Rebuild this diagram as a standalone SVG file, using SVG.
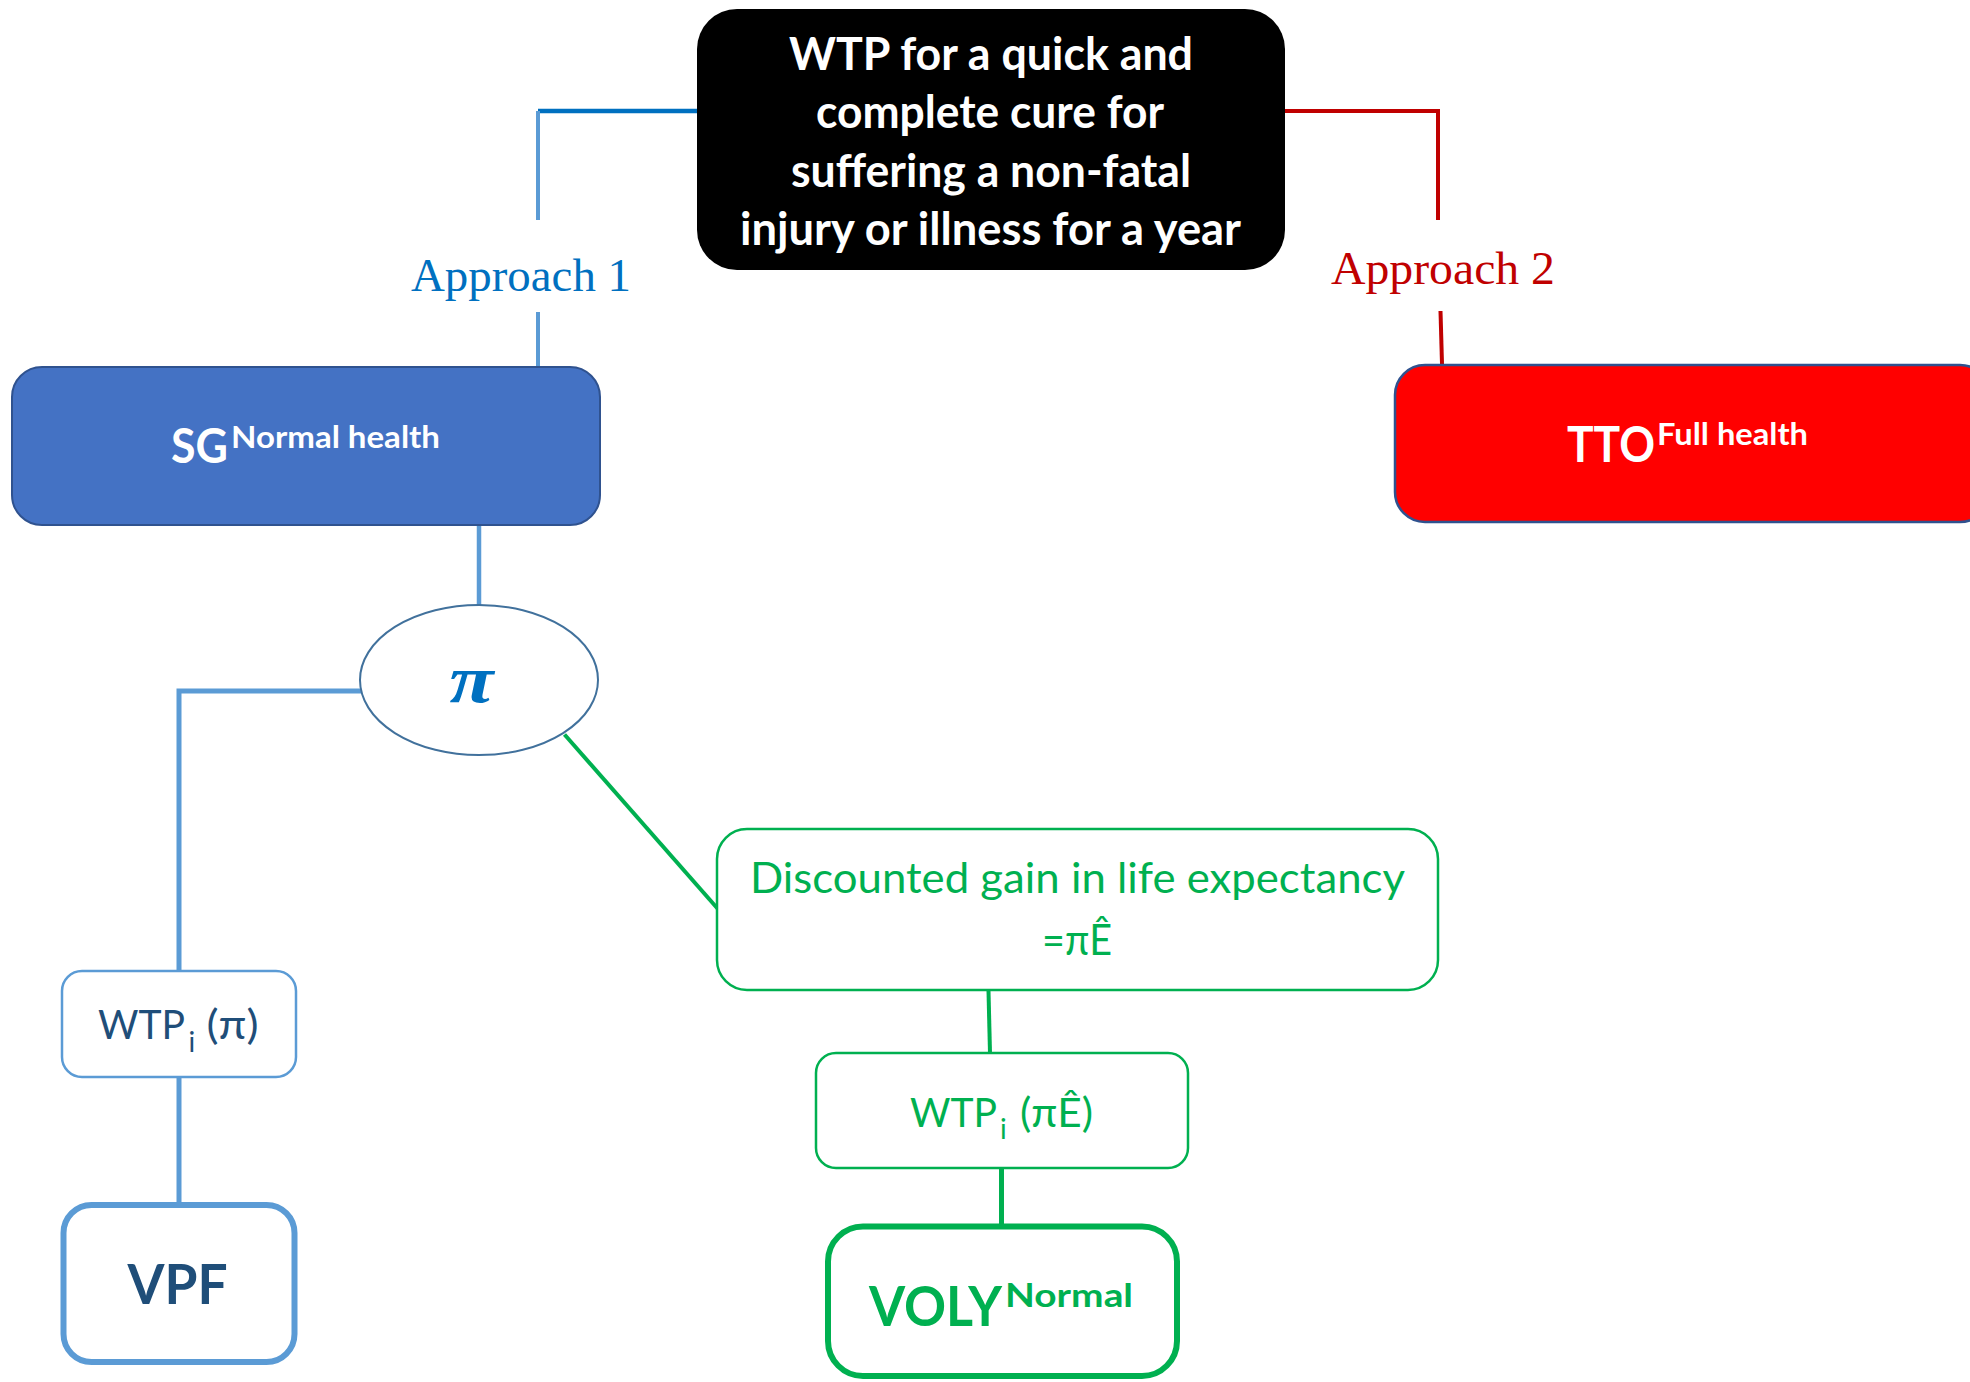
<svg xmlns="http://www.w3.org/2000/svg" width="1970" height="1382" viewBox="0 0 1970 1382">
<style>
.sans{font-family:Lato,"Liberation Sans","DejaVu Sans",sans-serif}
.b{font-weight:bold}
.serif{font-family:"Liberation Serif","DejaVu Serif",serif}
.wt{fill:#ffffff}
.conn{fill:none;stroke-linejoin:miter}
.lb{stroke:#5B9BD5}
.gr{stroke:#00B050}
.rd{stroke:#C00000}
.dkb{fill:#1F4E79}
.gtx{fill:#00B050}
</style>
<rect x="0" y="0" width="1970" height="1382" fill="#ffffff"/>
<g id="connectors">
  <path class="conn" d="M697 111 H538" stroke="#0070C0" stroke-width="4.5"/>
  <path class="conn lb" d="M538 111 V220" stroke-width="4"/>
  <path class="conn lb" d="M538 312 V366" stroke-width="4"/>
  <text class="serif" x="411" y="291" font-size="47" fill="#0070C0" textLength="220" lengthAdjust="spacingAndGlyphs">Approach 1</text>
  <path class="conn rd" d="M1285 111 H1438 V220" stroke-width="4"/>
  <path class="conn rd" d="M1440.5 311 L1442 364" stroke-width="4"/>
  <text class="serif" x="1331" y="284" font-size="47" fill="#C00000" textLength="224" lengthAdjust="spacingAndGlyphs">Approach 2</text>
  <path class="conn lb" d="M479 525 V605" stroke-width="4.5"/>
  <path class="conn lb" d="M362 691 H179 V971" stroke-width="5"/>
  <path class="conn lb" d="M179 1077 V1203" stroke-width="5"/>
  <path class="conn gr" d="M564.5 734.5 L717.5 908.5" stroke-width="4"/>
  <path class="conn gr" d="M988.5 991 L990 1053" stroke-width="4"/>
  <path class="conn gr" d="M1001.5 1168 V1224" stroke-width="5"/>
</g>
<g id="node-wtp">
  <rect x="697" y="9" width="588" height="261" rx="40" fill="#000000"/>
  <text class="sans b wt" x="789" y="70" font-size="45" textLength="404" lengthAdjust="spacingAndGlyphs">WTP for a quick and</text>
  <text class="sans b wt" x="816" y="128" font-size="45" textLength="348" lengthAdjust="spacingAndGlyphs">complete cure for</text>
  <text class="sans b wt" x="791" y="187" font-size="45" textLength="400" lengthAdjust="spacingAndGlyphs">suffering a non-fatal</text>
  <text class="sans b wt" x="740" y="245" font-size="45" textLength="501" lengthAdjust="spacingAndGlyphs">injury or illness for a year</text>
</g>
<g id="node-sg">
  <rect x="12" y="367" width="588" height="158" rx="30" fill="#4472C4" stroke="#2F528F" stroke-width="2"/>
  <text class="sans b wt" x="171" y="463" font-size="48" textLength="57" lengthAdjust="spacingAndGlyphs">SG</text>
  <text class="sans b wt" x="231" y="448" font-size="31" textLength="209" lengthAdjust="spacingAndGlyphs">Normal health</text>
</g>
<g id="node-tto">
  <rect x="1395" y="365" width="595" height="157" rx="30" fill="#FF0000" stroke="#2F528F" stroke-width="2.5"/>
  <text class="sans b wt" x="1567" y="462" font-size="50" textLength="88" lengthAdjust="spacingAndGlyphs">TTO</text>
  <text class="sans b wt" x="1657" y="445" font-size="31" textLength="151" lengthAdjust="spacingAndGlyphs">Full health</text>
</g>
<g id="node-pi">
  <ellipse cx="479" cy="680" rx="119" ry="75" fill="#ffffff" stroke="#41719C" stroke-width="2"/>
  <text class="serif" x="449.5" y="702" font-size="68" font-weight="bold" font-style="italic" fill="#0070C0" textLength="44" lengthAdjust="spacingAndGlyphs">π</text>
</g>
<g id="node-wtpi-pi">
  <rect x="62" y="971" width="234" height="106" rx="20" fill="#ffffff" stroke="#5B9BD5" stroke-width="2.5"/>
  <text class="sans dkb" x="98" y="1039" font-size="41" textLength="87" lengthAdjust="spacingAndGlyphs">WTP</text>
  <text class="sans dkb" x="188.5" y="1052" font-size="28">i</text>
  <text class="sans dkb" x="206.5" y="1039" font-size="41" textLength="52" lengthAdjust="spacingAndGlyphs">(π)</text>
</g>
<g id="node-vpf">
  <rect x="63.5" y="1205" width="231" height="157" rx="28" fill="#ffffff" stroke="#5B9BD5" stroke-width="6"/>
  <text class="sans b dkb" x="127.5" y="1304" font-size="55" textLength="100" lengthAdjust="spacingAndGlyphs">VPF</text>
</g>
<g id="node-discounted">
  <rect x="717" y="829" width="721" height="161" rx="30" fill="#ffffff" stroke="#00B050" stroke-width="2.5"/>
  <text class="sans gtx" x="750" y="893" font-size="42" textLength="655" lengthAdjust="spacingAndGlyphs">Discounted gain in life expectancy</text>
  <text class="sans gtx" x="1042" y="955" font-size="42" textLength="70" lengthAdjust="spacingAndGlyphs">=πÊ</text>
</g>
<g id="node-wtpi-pie">
  <rect x="816" y="1053" width="372" height="115" rx="20" fill="#ffffff" stroke="#00B050" stroke-width="2.5"/>
  <text class="sans gtx" x="910" y="1127" font-size="41" textLength="87" lengthAdjust="spacingAndGlyphs">WTP</text>
  <text class="sans gtx" x="1000" y="1139" font-size="28">i</text>
  <text class="sans gtx" x="1020" y="1127" font-size="41" textLength="73" lengthAdjust="spacingAndGlyphs">(πÊ)</text>
</g>
<g id="node-voly">
  <rect x="828" y="1226.5" width="349" height="149.5" rx="35" fill="#ffffff" stroke="#00B050" stroke-width="6"/>
  <text class="sans b gtx" x="869" y="1326" font-size="55" textLength="133" lengthAdjust="spacingAndGlyphs">VOLY</text>
  <text class="sans b gtx" x="1005" y="1307" font-size="33" textLength="128" lengthAdjust="spacingAndGlyphs">Normal</text>
</g>
</svg>
